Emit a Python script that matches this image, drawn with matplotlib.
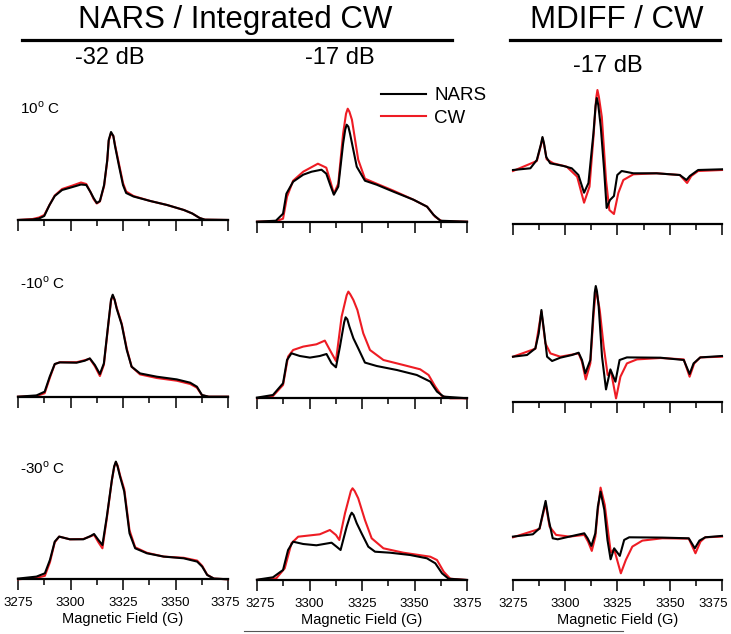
import matplotlib
matplotlib.use('Agg')
import matplotlib.pyplot as plt
from matplotlib.lines import Line2D
from matplotlib.ticker import MultipleLocator
from matplotlib.transforms import ScaledTranslation

plt.rcParams['font.family'] = ['Liberation Sans', 'DejaVu Sans']
plt.rcParams['mathtext.fontset'] = 'custom'
plt.rcParams['mathtext.rm'] = 'Liberation Sans'

# ---- data (intensity in arbitrary units) ----
# row 1: 10 C
p11_nars_x = [3275, 3282, 3285, 3287.5, 3290, 3292.5, 3296, 3301, 3305, 3307.5, 3309.5, 3311, 3312.5, 3314,
              3316, 3317.5, 3318.2, 3319.3, 3320.4, 3321.2, 3323, 3325, 3326.5, 3330, 3338, 3346, 3354, 3358,
              3361.5, 3364, 3375]
p11_nars_y = [0, 0.5, 1.5, 4, 15, 24, 30, 33, 35.5, 35, 28, 22, 17, 19,
              35, 60, 80, 88, 84, 74, 55, 35, 27, 23.5, 19, 15, 10, 6.5,
              2, 0.3, 0]
p11_cw_x = p11_nars_x
p11_cw_y = [0, 1, 2.5, 5, 15, 24.5, 31, 34.5, 37.5, 36, 28, 21, 16.5, 18.5,
            34, 59, 79, 87, 84, 75, 57, 37, 28.5, 24, 19, 15, 10, 6.5,
            2, 0.3, 0]

p12_nars_x = [3275, 3284, 3287.4, 3289, 3292.2, 3297, 3301, 3305.7, 3308, 3310, 3311.6, 3313.7, 3316, 3317,
              3317.7, 3318.5, 3319.3, 3322.5, 3326.4, 3332, 3340, 3349.5, 3356, 3359, 3362.3, 3375]
p12_nars_y = [0, 1, 8, 28, 40, 47, 50, 52, 48, 36, 27, 35, 78, 92,
              97, 95, 88, 55, 41, 37, 30, 22, 15, 7, 1, 0]
p12_cw_x = [3275, 3284, 3287.4, 3289.3, 3292.2, 3297, 3304, 3308, 3310, 3311.6, 3313.7, 3316, 3317.4, 3318.2,
            3319, 3320.2, 3323.2, 3326.4, 3332, 3340, 3349.5, 3356, 3359.8, 3363, 3375]
p12_cw_y = [0, 0.5, 3, 25, 41, 50, 58, 54, 40, 28, 38, 88, 108, 113,
            110, 102, 62, 43, 38, 31, 22, 15, 5, 0.5, 0]

p13_nars_x = [3275, 3283.3, 3286.4, 3288.4, 3289.1, 3289.8, 3290.9, 3292.8, 3299.2, 3303.1, 3306.3, 3309, 3311.1,
              3313.5, 3314.5, 3315.1, 3315.8, 3317, 3318.6, 3319.8, 3321.4, 3323.3, 3324.9, 3327, 3332.6, 3343.7,
              3354.8, 3358, 3359.6, 3363.6, 3375]
p13_nars_y = [0, 1.7, 10, 26, 33, 27, 13, 6.7, 4, 1.7, -5, -22.7, -13,
              37, 64, 72, 65, 43, 0, -38, -30, -26, -5, -1, -3.3, -3.3,
              -5, -10, -6, 0, 0.7]
p13_cw_x = [3275, 3286.4, 3288.4, 3289.1, 3289.9, 3291.1, 3294.3, 3300.7, 3305.7, 3309, 3311.6, 3313.5, 3314.8,
            3315.4, 3316.1, 3317.5, 3319.5, 3321.1, 3323.3, 3325.4, 3327.8, 3332.6, 3343.7, 3354.8, 3358.3,
            3360.3, 3363.6, 3375]
p13_cw_y = [-1, 9, 25, 32, 25, 10.7, 6.7, 3.3, -6.7, -32.7, -16.7, 33, 72,
            80, 73, 53, -10, -40, -44, -23, -10, -4.3, -3.3, -5, -13,
            -6, -1, 0]

# row 2: -10 C
p21_nars_x = [3275, 3283.8, 3287.7, 3290.1, 3292.5, 3294.9, 3302.9, 3306.8, 3309.2, 3311.6, 3314, 3315.9, 3318,
              3319.3, 3320.1, 3321, 3322, 3324.4, 3326.8, 3329.1, 3333.1, 3341.1, 3350.6, 3357, 3360.2, 3362.6,
              3365.8, 3375]
p21_nars_y = [0, 1.3, 5, 20, 32.7, 34.3, 34, 36, 38.3, 31.7, 22.7, 33.3, 73,
              97, 102, 97, 88, 72, 46.7, 30, 23.3, 20, 17.3, 14, 10, 1.7,
              0, 0]
p21_cw_x = p21_nars_x
p21_cw_y = [0, 0.7, 3.5, 18.5, 32.5, 34.5, 34.5, 36.5, 38, 30.5, 20.7, 32, 72,
            96, 101, 97, 89, 73, 48, 30, 22.3, 18.7, 16, 12.7, 9, 1.5,
            0, 0]

p22_nars_x = [3275, 3282.6, 3287.4, 3289.3, 3291.4, 3295.4, 3300.2, 3304.9, 3308.1, 3310.5, 3312.6, 3314.5,
              3316.5, 3317.2, 3318, 3319, 3320.9, 3323.2, 3326.4, 3332, 3341.6, 3351.1, 3357.5, 3360.7, 3363.9, 3375]
p22_nars_y = [0.7, 3.3, 15, 38.3, 45, 42.3, 40.7, 42.3, 44.3, 35, 31, 51.7,
              76, 81, 79, 71.7, 60, 50, 35.7, 32.3, 28.3, 23.3, 16.7, 6.7, 1.7, 0]
p22_cw_x = [3275, 3282.6, 3287.4, 3289.8, 3292.2, 3297, 3303.3, 3307.3, 3309.7, 3312.6, 3315.3, 3317.7,
            3318.5, 3319.4, 3320.9, 3322.8, 3325.6, 3328.8, 3335.2, 3344.7, 3352.7, 3356.7, 3359.9, 3363, 3367, 3375]
p22_cw_y = [0, 2.3, 13.3, 41.7, 48.3, 51.7, 54, 57.7, 48.3, 37.3, 81.7, 103,
            106.7, 104, 98.3, 88.3, 65, 48.3, 38.3, 33.3, 29, 23.3, 11.7, 2.3, 0, 0]

p23_nars_x = [3275, 3281.7, 3285.7, 3287.3, 3288.6, 3290, 3291.3, 3293.7, 3297.6, 3303.2, 3306.4, 3308, 3309.6,
              3312, 3313.3, 3314.1, 3314.6, 3315.2, 3316, 3317.6, 3319.5, 3321.6, 3324, 3326, 3329.5, 3345.5,
              3356.7, 3359.5, 3361.4, 3364.6, 3375]
p23_nars_y = [0, 1.7, 8.3, 23.3, 46.7, 23.3, 0, -4.3, -1, 1.7, 4, -3.3, -16.7,
              -3.3, 40, 64, 70.7, 65, 50, 0, -32.7, -12.7, -25, -3.3, -0.7, -1,
              -3.3, -17.3, -6.7, -0.7, 0.7]
p23_cw_x = [3275, 3285.7, 3288.6, 3290.5, 3292.9, 3297.6, 3306.4, 3308, 3309.8, 3312, 3313.6, 3314.7, 3316.5,
            3318.4, 3320.3, 3321.9, 3324.3, 3326.4, 3329.5, 3334.3, 3345.5, 3356.7, 3359.5, 3361.7, 3364.6, 3375]
p23_cw_y = [0, 8, 45, 13.3, 3.3, 0, 3.3, -5, -22.7, -6.7, 43.3, 68.3, 46.7,
            10, -18.3, -15, -41.7, -20, -6.7, -2.7, -1.3, -2.7, -20, -6.7, -0.7, 0]

# row 3: -30 C
p31_nars_x = [3275, 3283.8, 3287.8, 3290.2, 3292.5, 3294.6, 3299.7, 3306.1, 3309.6, 3311.2, 3313.3, 3315.2,
              3317.3, 3319.7, 3320.8, 3321.6, 3322.4, 3323.6, 3325.6, 3328.1, 3330.8, 3336.4, 3344.4, 3353.9,
              3360.3, 3362.7, 3365.1, 3368.3, 3375]
p31_nars_y = [0.7, 2.7, 6, 19.3, 37.7, 42.7, 40, 40, 43.3, 45.3, 39.3, 34.3,
              62.7, 99.3, 113, 117.7, 113, 102.7, 87.7, 46, 31, 26, 22.7, 21,
              17.7, 12.7, 4.3, 0.7, 0]
p31_cw_x = p31_nars_x
p31_cw_y = [0, 1.5, 3.5, 17, 37, 42.7, 40, 40.3, 43, 44.5, 37, 31,
            61, 99, 112, 117, 114, 104, 90, 49, 32, 26.5, 22.7, 21.5,
            18.7, 13.5, 4.5, 0.7, 0]

p32_nars_x = [3275, 3282.6, 3287.4, 3289.8, 3292.2, 3297, 3303.3, 3310.5, 3312.9, 3314.8, 3317.7, 3319.3,
              3320.1, 3321, 3322.5, 3324.8, 3328, 3331.2, 3338.4, 3347.9, 3355.9, 3359.9, 3363.1, 3366.2, 3375]
p32_nars_y = [0.3, 2.7, 10, 30, 38.3, 36, 34.7, 37.3, 33.3, 30, 53.3, 64,
              67.3, 65, 56.7, 46.7, 33.3, 28.3, 27.3, 25, 21.7, 16.7, 6.7, 1.3, 0]
p32_cw_x = [3275, 3284.2, 3288.2, 3291.4, 3294.6, 3304.9, 3309.7, 3312.6, 3314.2, 3316.9, 3319.7, 3320.5,
            3321.5, 3323.2, 3326.4, 3329.6, 3335.2, 3344.7, 3357.5, 3360.7, 3363.9, 3367, 3375]
p32_cw_y = [0, 1.7, 11.7, 36.7, 43.3, 45.7, 50, 45, 40, 66.7, 89, 91.7,
            89, 81.7, 60, 41.7, 31.7, 27.3, 23.3, 20, 8.3, 1.3, 0]

p33_nars_x = [3275, 3284.5, 3287.7, 3289.3, 3290.6, 3292.1, 3294, 3296.4, 3302, 3309.1, 3310.7, 3312.5, 3314.4,
              3315.6, 3316.9, 3318.7, 3320.2, 3321.7, 3323.4, 3326.1, 3328.2, 3330.6, 3346.4, 3359.1, 3362,
              3364.2, 3367, 3375]
p33_nars_y = [0, 2.3, 8.3, 23.3, 35.7, 16.7, -1.7, -2.7, 0, 3.3, -1.7, -9.3, 3.3,
              30, 45, 26.7, -3.3, -22.7, -11.7, -19.3, -3.3, -0.7, -1, -1.7, -11.7,
              -4, -0.7, 0.7]
p33_cw_x = [3275, 3287.7, 3290.6, 3292.5, 3295.6, 3302, 3309.1, 3310.9, 3312.7, 3314.4, 3315.6, 3316.9, 3318.9,
            3320.6, 3321.8, 3323.4, 3326.6, 3329, 3332.1, 3336.9, 3346.4, 3359.1, 3362.3, 3364.7, 3367, 3375]
p33_cw_y = [-0.7, 7.7, 33.3, 10, 1.7, 0, 1.7, -5, -14.3, 0, 26.7, 49, 31.7,
            3.3, -16, -12.7, -36.7, -23.3, -10, -4, -1.7, -2, -16.7, -5, -0.7, 0]

temps = ['10$^{\\rm o}$ C', '-10$^{\\rm o}$ C', '-30$^{\\rm o}$ C']
powers = ['-32 dB', '-17 dB', '-17 dB']
xticks = [3275, 3300, 3325, 3350, 3375]

# ---- layout (pixel positions) ----
W, H = 731, 634
fig = plt.figure(figsize=(W / 100, H / 100), dpi=100)

col_x = [(18, 228), (257, 467), (513, 722)]
row_base = [(220, 221.7, 224.3), (396.7, 398.3, 401.7), (579.3, 580, 580.3)]
deriv_floor = [-54.3, -45, -43.7]
panel_h = 150

panels = [
    [(p11_nars_x, p11_nars_y, p11_cw_x, p11_cw_y), (p12_nars_x, p12_nars_y, p12_cw_x, p12_cw_y),
     (p13_nars_x, p13_nars_y, p13_cw_x, p13_cw_y)],
    [(p21_nars_x, p21_nars_y, p21_cw_x, p21_cw_y), (p22_nars_x, p22_nars_y, p22_cw_x, p22_cw_y),
     (p23_nars_x, p23_nars_y, p23_cw_x, p23_cw_y)],
    [(p31_nars_x, p31_nars_y, p31_cw_x, p31_cw_y), (p32_nars_x, p32_nars_y, p32_cw_x, p32_cw_y),
     (p33_nars_x, p33_nars_y, p33_cw_x, p33_cw_y)],
]

# small horizontal nudges (points) for crowded edge tick labels
label_shift = {(0, 4): -2, (1, 0): 2, (2, 4): -6}

red = '#ee1c24'
for r in range(3):
    for c in range(3):
        x0, x1 = col_x[c]
        yb = row_base[r][c]
        ax = fig.add_axes([x0 / W, 1 - yb / H, (x1 - x0) / W, panel_h / H])
        nx, ny, cx, cy = panels[r][c]
        ax.plot(cx, cy, color=red, lw=1.5, clip_on=False, solid_joinstyle='round')
        ax.plot(nx, ny, color='black', lw=1.5, clip_on=False, solid_joinstyle='round')
        ax.set_xlim(3275, 3375)
        lo = deriv_floor[r] if c == 2 else 0
        ax.set_ylim(lo, lo + panel_h)
        for s in ['left', 'right', 'top']:
            ax.spines[s].set_visible(False)
        ax.spines['bottom'].set_linewidth(1.6)
        ax.set_yticks([])
        ax.set_xticks(xticks)
        ax.xaxis.set_minor_locator(MultipleLocator(12.5))
        ax.tick_params(axis='x', which='major', direction='out', length=8, width=1.1, pad=5, labelsize=9.5)
        ax.tick_params(axis='x', which='minor', direction='out', length=4.5, width=1.1)
        ax.patch.set_alpha(0)
        if r == 2:
            ax.set_xlabel('Magnetic Field (G)', fontsize=10.5, labelpad=2)
            for (cc, i), dx in label_shift.items():
                if cc == c:
                    lab = ax.get_xticklabels()[i]
                    lab.set_transform(lab.get_transform() + ScaledTranslation(dx / 72, 0, fig.dpi_scale_trans))
        else:
            ax.set_xticklabels([])
        if r == 0 and c == 1:
            handles = [Line2D([], [], color='black', lw=1.5), Line2D([], [], color=red, lw=1.5)]
            fig.legend(handles, ['NARS', 'CW'], loc='upper left', bbox_to_anchor=(381 / W, 1 - 87 / H),
                       frameon=False, fontsize=13.5, handlelength=2.4, handletextpad=0.45,
                       labelspacing=0.3, borderpad=0, borderaxespad=0)

# temperature labels
for r, ty in enumerate([108, 283, 468]):
    fig.text(20 / W, 1 - ty / H, temps[r], fontsize=11, va='center', ha='left')

# power labels
for c, (px, py) in enumerate([(110, 58), (340, 58), (608, 66)]):
    fig.text(px / W, 1 - py / H, powers[c], fontsize=17, ha='center', va='center')

# headers with underlines
fig.text(235 / W, 1 - 20 / H, 'NARS / Integrated CW', fontsize=22.5, ha='center', va='center')
fig.text(617 / W, 1 - 20 / H, 'MDIFF / CW', fontsize=22.5, ha='center', va='center')
fig.add_artist(Line2D([22 / W, 452 / W], [1 - 40 / H] * 2, color='black', lw=2.3))
fig.add_artist(Line2D([510 / W, 720 / W], [1 - 40 / H] * 2, color='black', lw=2.3))
fig.add_artist(Line2D([244 / W, 623 / W], [1 - 631 / H] * 2, color='#555555', lw=0.8))

fig.savefig('out.png', dpi=100)
